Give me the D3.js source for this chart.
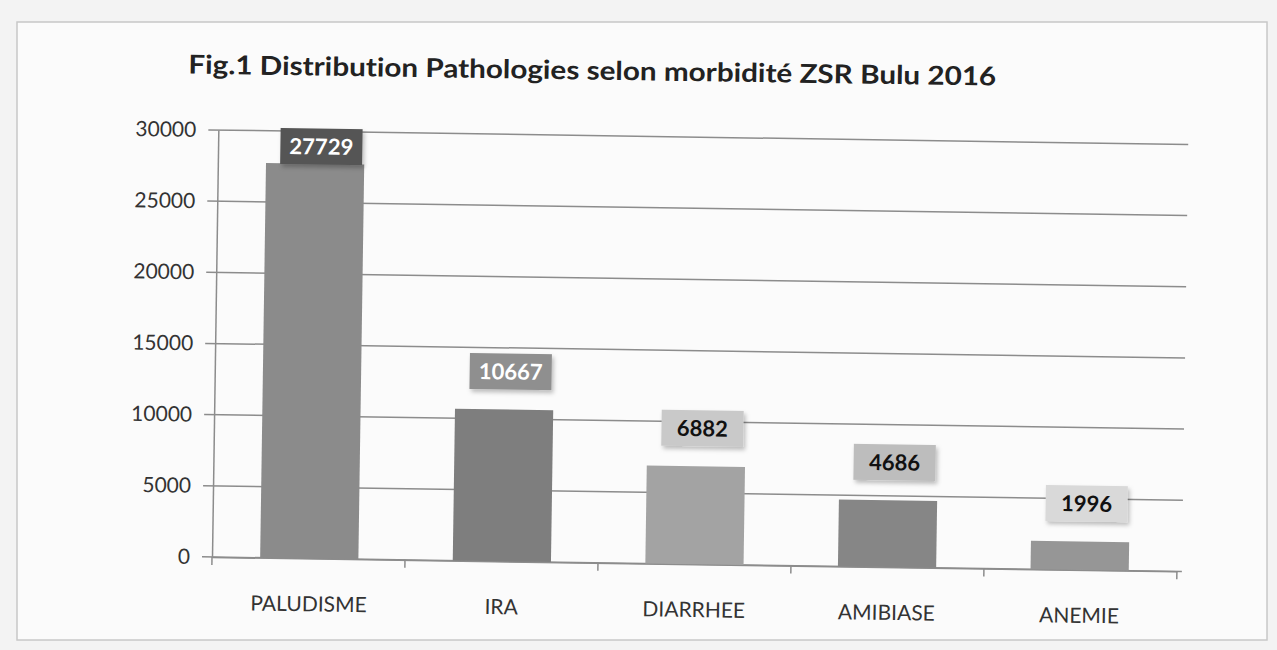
<!DOCTYPE html>
<html>
<head>
<meta charset="utf-8">
<script src="https://cdn.jsdelivr.net/npm/d3@7"></script>
<style>
  body { margin: 0; background: #f3f3f3; }
  text { font-family: Lato, "Open Sans", sans-serif; }
</style>
</head>
<body>
<div id="main"></div>
<script>
var chartCfg = {
    width: 1277,
    height: 650,
    left: 212,
    right: 1177,
    top: 130,
    bottom: 557,
    tilt: 0.85, // the scan is a bit skewed
};

var titleText = "Fig.1  Distribution Pathologies selon morbidité ZSR Bulu 2016";
var categories = ["PALUDISME", "IRA", "DIARRHEE", "AMIBIASE", "ANEMIE"];
var values = [27729, 10667, 6882, 4686, 1996];
var yTicks = [0, 5000, 10000, 15000, 20000, 25000, 30000];

// greys as they came out of the scan
var barColors = ["#8b8b8b", "#7e7e7e", "#a3a3a3", "#868686", "#969696"];
var boxColors = ["#545454", "#8f8f8f", "#c9c9c9", "#bdbdbd", "#d9d9d9"];
var boxTextColors = ["#ffffff", "#ffffff", "#111111", "#111111", "#111111"];

var x = d3.scaleBand()
    .domain(categories)
    .range([chartCfg.left, chartCfg.right])
    .paddingInner(0.49)
    .paddingOuter(0.25);

var y = d3.scaleLinear()
    .domain([0, 30000])
    .range([chartCfg.bottom, chartCfg.top]);

var svg = d3.select("#main").append("svg")
    .attr("width", chartCfg.width)
    .attr("height", chartCfg.height);

var defs = svg.append("defs");
var shadow = defs.append("filter").attr("id", "shadow")
    .attr("x", "-20%").attr("y", "-20%").attr("width", "150%").attr("height", "160%");
shadow.append("feDropShadow")
    .attr("dx", 2).attr("dy", 3).attr("stdDeviation", 2)
    .attr("flood-color", "#000").attr("flood-opacity", 0.25);

// paper
svg.append("rect")
    .attr("x", 17).attr("y", 22)
    .attr("width", 1250).attr("height", 618)
    .attr("fill", "#fbfbfb")
    .attr("stroke", "#c8c8c8")
    .attr("stroke-width", 1.5);

var g = svg.append("g")
    .attr("transform", "rotate(" + chartCfg.tilt + "," + chartCfg.left + "," + chartCfg.bottom + ")");

g.append("text")
    .attr("x", 181)
    .attr("y", 74)
    .attr("font-size", 26)
    .attr("font-weight", "bold")
    .attr("fill", "#222")
    .attr("textLength", 808)
    .attr("lengthAdjust", "spacingAndGlyphs")
    .style("font-variant-ligatures", "none")
    .text(titleText);

// gridlines
g.selectAll(".grid")
    .data(yTicks)
    .enter()
    .append("line")
    .attr("class", "grid")
    .attr("x1", chartCfg.left - 10)
    .attr("x2", chartCfg.right + 5)
    .attr("y1", function (d) { return y(d); })
    .attr("y2", function (d) { return y(d); })
    .attr("stroke", "#8c8c8c")
    .attr("stroke-width", 1.5);

// y axis
var yAxis = g.append("g")
    .attr("transform", "translate(" + chartCfg.left + ",0)")
    .call(d3.axisLeft(y).tickValues(yTicks).tickFormat(d3.format("d")).tickSize(0).tickPadding(22));
yAxis.select(".domain").attr("stroke", "#8c8c8c").attr("stroke-width", 1.5);
yAxis.selectAll("text")
    .attr("font-size", 21)
    .attr("fill", "#333")
    .style("font-family", "Lato, sans-serif");

// x axis
var xAxis = g.append("g")
    .attr("transform", "translate(0," + chartCfg.bottom + ")")
    .call(d3.axisBottom(x).tickSize(0).tickPadding(38));
xAxis.select(".domain").attr("stroke", "#8c8c8c").attr("stroke-width", 1.5);
xAxis.selectAll("text")
    .attr("font-size", 21)
    .attr("fill", "#333")
    .style("font-family", "Lato, sans-serif");

var boundaries = d3.range(categories.length + 1).map(function (i) {
    return chartCfg.left + i * (chartCfg.right - chartCfg.left) / categories.length;
});
g.selectAll(".xtick")
    .data(boundaries)
    .enter()
    .append("line")
    .attr("class", "xtick")
    .attr("x1", function (d) { return d; })
    .attr("x2", function (d) { return d; })
    .attr("y1", chartCfg.bottom)
    .attr("y2", chartCfg.bottom + 8)
    .attr("stroke", "#8c8c8c")
    .attr("stroke-width", 1.5);

// bars
g.selectAll(".bar")
    .data(values)
    .enter()
    .append("rect")
    .attr("class", "bar")
    .attr("x", function (d, i) { return x(categories[i]); })
    .attr("y", function (d) { return y(d); })
    .attr("width", x.bandwidth())
    .attr("height", function (d) { return y(0) - y(d); })
    .attr("fill", function (d, i) { return barColors[i]; });

// value boxes
var boxW = 82, boxH = 36, gap = 20;
var labels = g.selectAll(".lbl")
    .data(values)
    .enter()
    .append("g")
    .attr("class", "lbl")
    .attr("transform", function (d, i) {
        var cx = x(categories[i]) + x.bandwidth() / 2 + 6;
        var top = Math.max(y(d) - gap - boxH, chartCfg.top - 3);
        return "translate(" + cx + "," + top + ")";
    });

labels.append("rect")
    .attr("x", -boxW / 2)
    .attr("width", boxW)
    .attr("height", boxH)
    .attr("fill", function (d, i) { return boxColors[i]; })
    .attr("filter", "url(#shadow)");

labels.append("text")
    .attr("y", boxH / 2)
    .attr("dy", "0.36em")
    .attr("text-anchor", "middle")
    .attr("font-size", 22)
    .attr("font-weight", "bold")
    .attr("fill", function (d, i) { return boxTextColors[i]; })
    .text(function (d) { return d; });
</script>
</body>
</html>
